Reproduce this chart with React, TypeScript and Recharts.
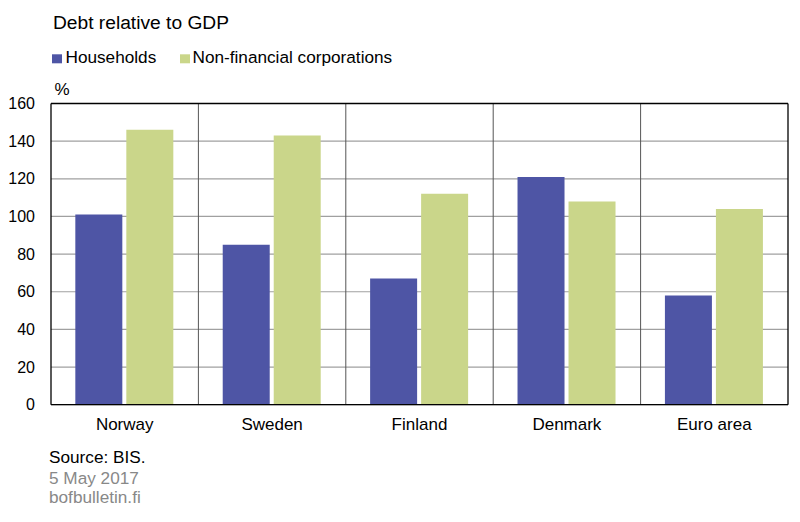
import React from "react";
import { BarChart, Bar, XAxis, YAxis, CartesianGrid } from "recharts";

const categories = ["Norway", "Sweden", "Finland", "Denmark", "Euro area"];
const households = [101, 85, 67, 121, 58];
const corporations = [146, 143, 112, 108, 104];
const yTicks = [0, 20, 40, 60, 80, 100, 120, 140, 160];

const data = categories.map((c, i) => ({
  name: c,
  households: households[i],
  corporations: corporations[i],
}));

const FONT = "'Liberation Sans', Arial, sans-serif";
const BLUE = "#4E55A5";
const GREEN = "#CAD68A";

const YTick = (props: any) => {
  const { x, y, payload } = props;
  return (
    <text x={x - 16} y={y} dy="0.35em" textAnchor="end" fontSize={16} fontFamily={FONT} fill="#000">
      {payload.value}
    </text>
  );
};

const XTick = (props: any) => {
  const { x, y, payload } = props;
  return (
    <text x={x} y={y + 25.5} textAnchor="middle" fontSize={17} fontFamily={FONT} fill="#000">
      {payload.value}
    </text>
  );
};

export default function App() {
  return (
    <div style={{ position: "absolute", left: 0, top: 0, width: 800, height: 522, background: "#fff" }}>
      <BarChart
        width={800}
        height={522}
        data={data}
        margin={{ top: 102.5, right: 11, bottom: 87.3, left: 0 }}
        barCategoryGap="16.5%"
        barGap={4}
      >
        <CartesianGrid
          xAxisId="bottom"
          yAxisId="left"
          horizontal={true}
          vertical={false}
          stroke="#A0A0A0"
          strokeWidth={1.2}
          horizontalValues={yTicks}
        />
        <CartesianGrid
          xAxisId="bottom"
          yAxisId="left"
          horizontal={false}
          vertical={true}
          stroke="#555555"
          strokeWidth={1}
          verticalCoordinatesGenerator={({ offset }: any) =>
            categories.slice(1).map((_, i) => offset.left + ((i + 1) * offset.width) / categories.length)
          }
        />
        <XAxis
          dataKey="name"
          xAxisId="bottom"
          height={30}
          tickLine={false}
          tickSize={0}
          tickMargin={0}
          axisLine={{ stroke: "#000", strokeWidth: 1.3 }}
          tick={<XTick />}
          interval={0}
        />
        <XAxis
          dataKey="name"
          xAxisId="top"
          orientation="top"
          height={1}
          tick={false}
          tickLine={false}
          axisLine={{ stroke: "#000", strokeWidth: 1.3 }}
        />
        <YAxis
          yAxisId="left"
          width={51}
          domain={[0, 160]}
          ticks={yTicks}
          interval={0}
          tickLine={false}
          tickSize={0}
          tickMargin={0}
          axisLine={{ stroke: "#000", strokeWidth: 1.3 }}
          tick={<YTick />}
        />
        <YAxis
          yAxisId="right"
          orientation="right"
          width={1}
          domain={[0, 160]}
          ticks={yTicks}
          tick={false}
          tickLine={false}
          axisLine={{ stroke: "#000", strokeWidth: 1.3 }}
        />
        <Bar dataKey="households" xAxisId="bottom" yAxisId="left" fill={BLUE} isAnimationActive={false} />
        <Bar dataKey="corporations" xAxisId="bottom" yAxisId="left" fill={GREEN} isAnimationActive={false} />
      </BarChart>
      <svg
        width={800}
        height={522}
        style={{ position: "absolute", left: 0, top: 0, pointerEvents: "none" }}
        fontFamily={FONT}
      >
        <text x={53} y={29} fontSize={19.2} fill="#000">Debt relative to GDP</text>
        <rect x={52} y={54.3} width={10} height={9} fill={BLUE} />
        <text x={65.5} y={63.3} fontSize={17.2} fill="#000">Households</text>
        <rect x={180} y={54.3} width={10} height={9} fill={GREEN} />
        <text x={192.5} y={63.3} fontSize={17.2} fill="#000">Non-financial corporations</text>
        <text x={54.5} y={95} fontSize={17} fill="#000">%</text>
        <text x={49} y={463.3} fontSize={17.2} fill="#000">Source: BIS.</text>
        <text x={49} y={484.3} fontSize={17.2} fill="#888">5 May 2017</text>
        <text x={49} y={503.3} fontSize={17.2} fill="#888">bofbulletin.fi</text>
      </svg>
    </div>
  );
}
